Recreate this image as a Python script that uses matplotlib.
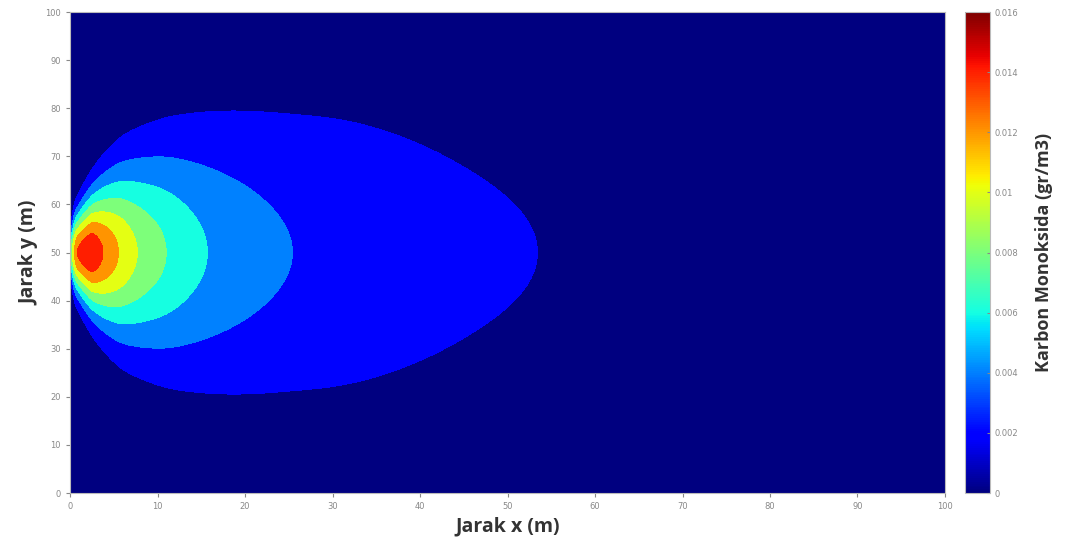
import numpy as np
import matplotlib
matplotlib.use("Agg")
import matplotlib.pyplot as plt
from matplotlib.colors import Normalize
from matplotlib.cm import ScalarMappable

# contour levels and colorbar ticks (gr/m3)
levels = [0, 0.002, 0.004, 0.006, 0.008, 0.010, 0.012, 0.014, 0.016]
cbar_ticks = [0, 0.002, 0.004, 0.006, 0.008, 0.010, 0.012, 0.014, 0.016]
cbar_labels = ["0", "0.002", "0.004", "0.006", "0.008", "0.01", "0.012", "0.014", "0.016"]

center_x = [0, 0.5, 0.8, 2.5, 3.8, 5.6, 7.7, 11.1, 15.7, 25.3, 32, 37.7, 43.4, 49.1, 54.3, 60, 100]
center_c = [0.008, 0.012, 0.014, 0.0158, 0.014, 0.012, 0.010, 0.008, 0.006, 0.004,
            0.00336, 0.00295, 0.00255, 0.0022, 0.002, 0.0017, 0.0007]

# lateral spread of the plume
sigma_x = [0, 0.5, 1, 2.5, 6, 12, 20, 32, 40, 50, 100]
sigma_v = [3, 5.5, 6.2, 8.5, 13, 17.5, 22, 27, 28, 28.5, 30]
source_y = 50


def smooth_profile(xq, xs, vs, shift=0.5, width=0.08):
    # interpolate in log-log space, then soften the corners a little
    u = np.linspace(np.log(shift), np.log(100 + shift), 2000)
    lv = np.interp(u, np.log(np.array(xs) + shift), np.log(vs))
    du = u[1] - u[0]
    k = np.arange(-int(4 * width / du), int(4 * width / du) + 1) * du
    ker = np.exp(-k ** 2 / (2 * width ** 2))
    ker /= ker.sum()
    pad = len(k) // 2
    lv = np.convolve(np.pad(lv, pad, mode="edge"), ker, mode="valid")
    return np.exp(np.interp(np.log(xq + shift), u, lv))


x = np.linspace(0, 100, 801)
y = np.linspace(0, 100, 801)
X, Y = np.meshgrid(x, y)
f = smooth_profile(x, center_x, center_c)
s = smooth_profile(x, sigma_x, sigma_v)
C = f[None, :] * np.exp(-(Y - source_y) ** 2 / (2 * s[None, :] ** 2))

jet = plt.get_cmap("jet")
band_colors = [jet(lv / 0.016) for lv in levels[:-1]]

fig = plt.figure(figsize=(10.69, 5.46), dpi=100)
ax = fig.add_axes([0.0655, 0.097, 0.8185, 0.881])
ax.contourf(X, Y, C, levels=levels + [1], colors=band_colors + [jet(1.0)])
ax.set_xlim(0, 100)
ax.set_ylim(0, 100)
ax.set_xticks(np.arange(0, 101, 10))
ax.set_yticks(np.arange(0, 101, 10))
ax.tick_params(labelsize=6, colors="#888888", length=3, direction="out")
for sp in ax.spines.values():
    sp.set_color("#bbbbbb")
ax.set_xlabel("Jarak x (m)", fontsize=14, fontweight="bold", family="Open Sans", color="#333333")
ax.set_ylabel("Jarak y (m)", fontsize=14, fontweight="bold", family="Open Sans", color="#333333")

cax = fig.add_axes([0.9027, 0.097, 0.0234, 0.881])
sm = ScalarMappable(norm=Normalize(0, 0.016), cmap=jet)
cb = fig.colorbar(sm, cax=cax, ticks=cbar_ticks)
cb.ax.set_yticklabels(cbar_labels)
cb.ax.tick_params(labelsize=6, colors="#888888", length=2, direction="in")
cb.outline.set_edgecolor("#bbbbbb")
cb.set_label("Karbon Monoksida (gr/m3)", fontsize=13, fontweight="bold", family="Open Sans", color="#333333", labelpad=12)

fig.savefig("out.png", dpi=100)
